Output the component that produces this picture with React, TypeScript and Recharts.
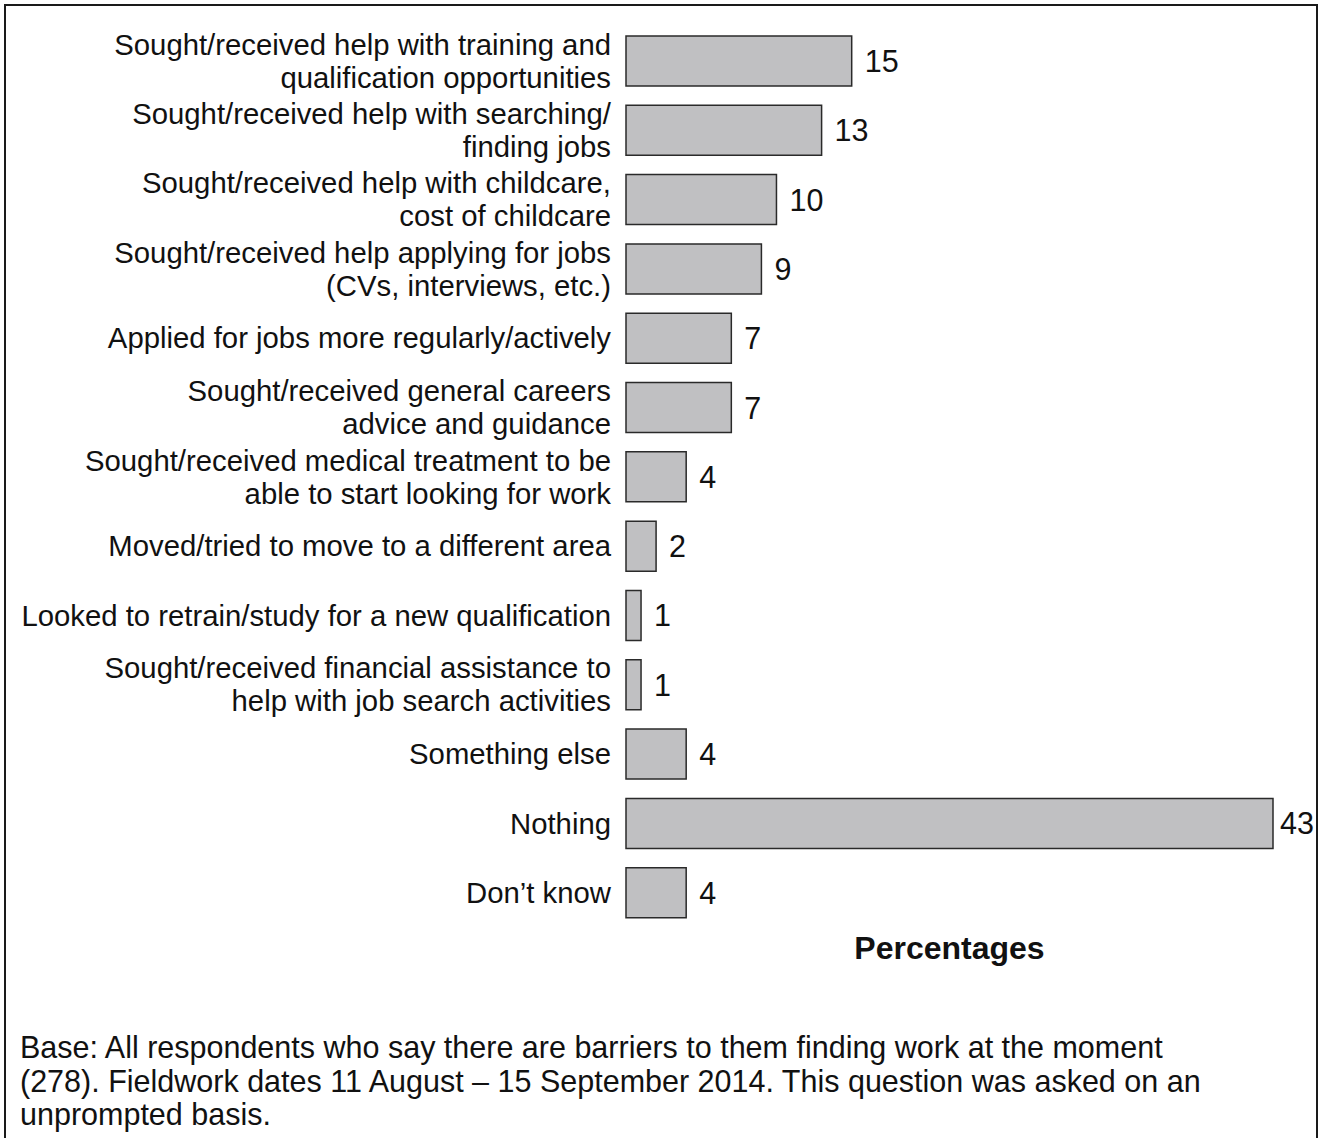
import { BarChart, Bar, XAxis, YAxis, LabelList, Label } from "recharts";

const CATEGORIAS = [
  "Sought/received help with training and\nqualification opportunities",
  "Sought/received help with searching/\nfinding jobs",
  "Sought/received help with childcare,\ncost of childcare",
  "Sought/received help applying for jobs\n(CVs, interviews, etc.)",
  "Applied for jobs more regularly/actively",
  "Sought/received general careers\nadvice and guidance",
  "Sought/received medical treatment to be\nable to start looking for work",
  "Moved/tried to move to a different area",
  "Looked to retrain/study for a new qualification",
  "Sought/received financial assistance to\nhelp with job search activities",
  "Something else",
  "Nothing",
  "Don\u2019t know",
];

const VALORES = [15, 13, 10, 9, 7, 7, 4, 2, 1, 1, 4, 43, 4];

const NOTA = [
  "Base: All respondents who say there are barriers to them finding work at the moment",
  "(278). Fieldwork dates 11 August \u2013 15 September 2014. This question was asked on an",
  "unprompted basis.",
];

const data = CATEGORIAS.map((c, i) => ({ categoria: c, valor: VALORES[i] }));

const FUENTE = "'Liberation Sans', Arial, Helvetica, sans-serif";
const ANCHO = 1320;
const LABEL_X = 607; // right edge of category labels, in chart coords

function TickCategoria(props: any) {
  const { y, payload } = props;
  const lineas = String(payload.value).split("\n");
  const alto = 33;
  const inicio = -((lineas.length - 1) * alto) / 2;
  return (
    <text x={LABEL_X} y={y} textAnchor="end" fill="#111" fontSize={29.3} fontFamily={FUENTE}>
      {lineas.map((l, i) => (
        <tspan key={i} x={LABEL_X} y={y + inicio + i * alto} dominantBaseline="central">
          {l}
        </tspan>
      ))}
    </text>
  );
}

function EtiquetaValor(props: any) {
  const { x, y, width, height, value } = props;
  // keep the widest label inside the frame
  const tx = Math.min(x + width + 13, ANCHO - 44);
  return (
    <text
      x={tx}
      y={y + height / 2}
      fill="#111"
      fontSize={30.5}
      fontFamily={FUENTE}
      dominantBaseline="central"
    >
      {value}
    </text>
  );
}

export default function App() {
  return (
    <div
      style={{
        position: "absolute",
        left: 0,
        top: 0,
        width: 1324,
        height: 1138,
        background: "#fff",
        overflow: "hidden",
        fontFamily: FUENTE,
      }}
    >
      <div
        style={{
          position: "absolute",
          left: 4,
          top: 4,
          width: 1310,
          height: 1160,
          border: "2px solid #1a1a1a",
        }}
      />
      <div style={{ position: "absolute", left: 4, top: 0 }}>
        <BarChart
          width={ANCHO}
          height={990}
          data={data}
          layout="vertical"
          margin={{ top: 26, right: 51, left: 0, bottom: 0 }}
          barCategoryGap={0}
        >
          <XAxis
            type="number"
            domain={[0, 43]}
            tick={false}
            tickLine={false}
            axisLine={false}
            height={63}
          >
            <Label
              value="Percentages"
              position="insideBottom"
              offset={31}
              style={{ fontSize: 32, fontWeight: "bold", fill: "#111", fontFamily: FUENTE }}
            />
          </XAxis>
          <YAxis
            type="category"
            dataKey="categoria"
            width={622}
            tickLine={false}
            axisLine={false}
            tick={<TickCategoria />}
            interval={0}
          />
          <Bar
            dataKey="valor"
            fill="#c0c0c2"
            stroke="#2a2a2a"
            strokeWidth={1.5}
            barSize={50}
            isAnimationActive={false}
          >
            <LabelList dataKey="valor" content={<EtiquetaValor />} />
          </Bar>
        </BarChart>
      </div>
      <div
        style={{
          position: "absolute",
          left: 20,
          top: 1031,
          fontSize: 30.5,
          lineHeight: "33.5px",
          color: "#111",
          whiteSpace: "nowrap",
        }}
      >
        {NOTA.map((l, i) => (
          <div key={i}>{l}</div>
        ))}
      </div>
    </div>
  );
}
